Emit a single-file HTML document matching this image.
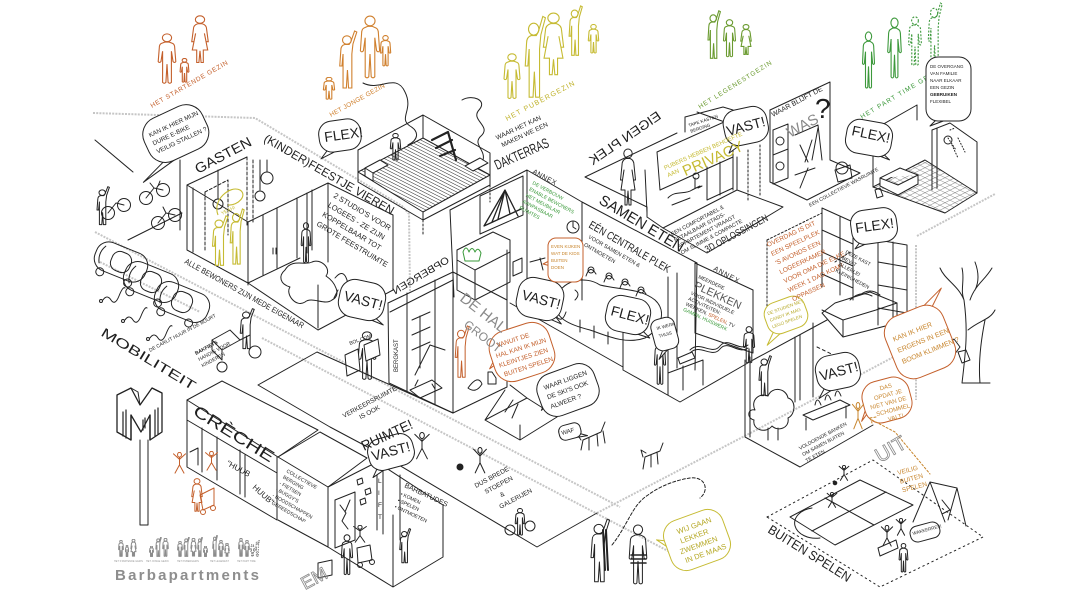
<!DOCTYPE html>
<html><head><meta charset="utf-8">
<style>
html,body{margin:0;padding:0;background:#fff}
body{width:1088px;height:593px;overflow:hidden}
svg{display:block}
text{font-family:"Liberation Sans",sans-serif}
</style></head><body>
<svg width="1088" height="593" viewBox="0 0 1088 593" xmlns="http://www.w3.org/2000/svg" xmlns:xlink="http://www.w3.org/1999/xlink">
<defs>
<symbol id="pm" viewBox="0 0 20 60" preserveAspectRatio="none">
 <ellipse cx="10" cy="5.5" rx="4.2" ry="4.5" vector-effect="non-scaling-stroke"/>
 <path vector-effect="non-scaling-stroke" d="M8,10.5 L5,12 Q3,13 3,17 L2,33 Q3,35 4.5,33 L6,21 L6,57 Q7.5,59 9,57 L10,36 L11,57 Q12.5,59 14,57 L14,21 L15.5,33 Q17,35 18,33 L17,17 Q17,13 15,12 L12,10.5 Z"/>
</symbol>
<symbol id="pw" viewBox="0 0 20 60" preserveAspectRatio="none">
 <ellipse cx="10" cy="5.5" rx="4.2" ry="4.5" vector-effect="non-scaling-stroke"/>
 <path vector-effect="non-scaling-stroke" d="M8,10.5 Q4,12 4,17 L2.5,32 L4.5,32 L6,22 L3,42 L7,42 L7,57 L9,57 L10,43 L11,57 L13,57 L13,42 L17,42 L14,22 L15.5,32 L17.5,32 L16,17 Q16,12 12,10.5 Z"/>
</symbol>
<symbol id="pr" viewBox="0 0 20 60" preserveAspectRatio="none">
 <ellipse cx="9" cy="10" rx="4" ry="4.2" vector-effect="non-scaling-stroke"/>
 <path vector-effect="non-scaling-stroke" d="M7,14.5 Q3.5,15.5 3.5,20 L2.5,36 L4.5,36 L5.5,24 L5.5,58 L8.5,58 L9.5,40 L10.5,58 L13.5,58 L13.5,24 L14.5,14 L18,2 L16,1 L12.5,12 L11,14.5 Z"/>
</symbol>
<symbol id="ps" viewBox="0 0 20 24" preserveAspectRatio="none">
 <circle cx="10" cy="3" r="2.6" vector-effect="non-scaling-stroke"/>
 <path vector-effect="non-scaling-stroke" d="M10,6 L10,14 M2,2 L10,8 L18,2 M10,14 L4,23 M10,14 L16,23"/>
</symbol>
<pattern id="hatch" patternUnits="userSpaceOnUse" width="3" height="3" patternTransform="rotate(-63)"><line x1="0" y1="0" x2="0" y2="3" stroke="#222" stroke-width="1"/></pattern>
<pattern id="grid" patternUnits="userSpaceOnUse" width="5" height="5" patternTransform="matrix(1,0.5,-1,0.5,0,0)"><path d="M0,0 L5,0 M0,0 L0,5" stroke="#333" stroke-width="0.7" fill="none"/></pattern>
</defs>

<rect width="1088" height="593" fill="#fff"/>

<!-- gray text bands -->
<g fill="none" stroke="#c6c6c6" stroke-width="2" stroke-dasharray="2 1.2">
<path d="M93,113 L255,118 L402,206 L409,214 L410,292"/>
<path d="M95,232 L620,507"/>
<path d="M262,338 L668,551"/>
<path d="M597,513 L760,428 L916,345"/>
<path d="M916,245 L916,400"/>
<path d="M917,236 L995,194"/>
<path d="M100,262 L200,312"/>
</g>

<!-- top family figures -->
<g fill="none" stroke-width="1.1">
 <g stroke="#c4602c">
  <use href="#pm" x="156" y="33" width="22" height="52"/>
  <use href="#pm" x="179" y="58" width="11" height="25"/>
  <use href="#pw" x="189" y="15" width="22" height="50"/>
 </g>
 <g stroke="#d0802e">
  <use href="#pm" x="322" y="77" width="14" height="23"/>
  <use href="#pr" x="337" y="30" width="22" height="60"/>
  <use href="#pm" x="358" y="15" width="24" height="65"/>
  <use href="#pm" x="379" y="35" width="13" height="32"/>
 </g>
 <g stroke="#c6bb33">
  <use href="#pm" x="502" y="53" width="20" height="47"/>
  <use href="#pr" x="522" y="15" width="26" height="85"/>
  <use href="#pw" x="540" y="12" width="27" height="66"/>
  <use href="#pr" x="567" y="5" width="17" height="52"/>
  <use href="#pm" x="587" y="24" width="13" height="30"/>
 </g>
 <g stroke="#6b9b30">
  <use href="#pr" x="706" y="10" width="16" height="50"/>
  <use href="#pm" x="722" y="19" width="15" height="39"/>
  <use href="#pw" x="739" y="24" width="14" height="32"/>
 </g>
 <g stroke="#3d993c">
  <use href="#pm" x="861" y="31" width="15" height="59"/>
  <use href="#pm" x="886" y="17" width="17" height="63"/>
  <use href="#pm" x="907" y="16" width="16" height="51" stroke-dasharray="2 1.5"/>
  <use href="#pr" x="926" y="2" width="18" height="65" stroke-dasharray="2 1.5"/>
 </g>
</g>
<g font-size="6.5">
 <text transform="translate(152,108) rotate(-30)" fill="#c4602c" textLength="88" lengthAdjust="spacing">HET STARTENDE GEZIN</text>
 <text transform="translate(331,117) rotate(-29)" fill="#d0802e" textLength="62" lengthAdjust="spacing">HET JONGE GEZIN</text>
 <text transform="translate(507,121) rotate(-28)" fill="#bfb22a" font-size="7" textLength="77" lengthAdjust="spacing">HET PUBERGEZIN</text>
 <text transform="translate(700,109) rotate(-32)" fill="#6b9b30" textLength="85" lengthAdjust="spacing">HET LEGENESTGEZIN</text>
 <text transform="translate(862,119) rotate(-31)" fill="#3d993c" textLength="92" lengthAdjust="spacing">HET PART TIME GEZIN</text>
</g>

<!-- main ink drawing -->
<g fill="none" stroke="#222" stroke-width="1" stroke-linecap="round" stroke-linejoin="round">

<!-- bike shelter -->
<path d="M95,140 L133,172 M180,160 L180,230 M128,240 L182,213"/>
<circle cx="146" cy="198" r="6.5"/><circle cx="163" cy="190" r="6.5"/>
<path d="M146,198 L154,188 L163,190 M154,188 L150,183 M158,186 L160,181"/>
<circle cx="158" cy="223" r="6.5"/><circle cx="175" cy="215" r="6.5"/>
<path d="M158,223 L166,213 L175,215 M166,213 L163,207"/>
<circle cx="108" cy="213" r="6.5"/><circle cx="124" cy="205" r="6.5"/>
<path d="M108,213 L116,203 L124,205"/>
<use href="#pr" x="95" y="186" width="16" height="40"/>

<!-- cars -->
<g transform="translate(121,262) rotate(22)"><rect x="-27" y="-15" width="54" height="30" rx="13"/><rect x="-10" y="-10" width="20" height="20" rx="8"/><path d="M-20,-9 Q-25,0 -20,9"/><circle cx="-16" cy="17" r="4"/><circle cx="14" cy="17" r="4"/></g>
<g transform="translate(151,282) rotate(22)"><rect x="-28" y="-15" width="56" height="30" rx="13"/><rect x="-10" y="-10" width="20" height="20" rx="8"/><path d="M-20,-9 Q-25,0 -20,9"/><circle cx="-16" cy="17" r="4"/><circle cx="14" cy="17" r="4"/></g>
<g transform="translate(182,302) rotate(22)"><rect x="-28" y="-15" width="56" height="30" rx="13"/><rect x="-10" y="-10" width="20" height="20" rx="8"/><path d="M-20,-9 Q-25,0 -20,9"/><circle cx="-16" cy="17" r="4"/><circle cx="14" cy="17" r="4"/></g>
<path d="M103,300 q4,-6 8,0 t8,-4 t6,-8 M125,320 q4,-6 8,0 t8,-4 t6,-8 M150,338 q4,-6 8,0 t8,-4 t6,-8"/>
<circle cx="101" cy="301" r="1.5"/><circle cx="123" cy="321" r="1.5"/><circle cx="148" cy="339" r="1.5"/>

<!-- GASTEN / feestje -->
<path d="M187,185 L247,157 M187,185 L248,222 L328,183 L393,215 M187,185 L187,250 L248,283 M193,188 L193,252 M248,222 L248,285 M328,183 L328,262 M393,215 L393,290"/>
<path stroke-dasharray="3 2" d="M247,157 L247,225 M253,160 L253,222 M205,192 L228,180 L228,235 M205,192 L205,250"/>
<path d="M218,170 L218,199 M267,160 L267,172 M260,160 L260,190"/>
<circle cx="218" cy="204" r="5"/><circle cx="267" cy="178" r="6"/><circle cx="260" cy="196" r="5"/>
<path d="M263,215 L263,275 M277,208 L277,268 M297,198 L297,258 M307,193 L307,253 M312,190 L312,250"/>
<path d="M248,283 L300,258 M318,330 L393,290 M248,283 L318,330 M318,285 L318,328"/>
<path d="M285,270 C292,258 305,266 312,262 C320,258 332,268 326,276 C335,282 342,295 332,300 C325,306 312,296 305,302 C296,308 285,294 290,287 C280,284 278,276 285,270 Z"/>
<use href="#pm" x="300" y="222" width="12" height="42"/>
<path d="M335,278 q8,-10 12,2 q2,8 -6,10 M338,290 l-4,8 M345,290 l3,8"/>
<path d="M273,248 L273,254 M276,248 L276,254"/>

<!-- dakterras -->
<polygon points="358,172 423,138 490,175 423,212" fill="url(#hatch)"/>
<path d="M358,172 L358,150 L423,115 L490,153 L490,175 M423,115 L423,138"/>
<path d="M358,172 L358,182 L423,220 L490,185 L490,175 M423,212 L423,220"/>
<path stroke-dasharray="2 2" d="M423,220 L423,234 M490,185 L490,202"/>
<use href="#pm" x="389" y="133" width="13" height="28"/>
<path d="M365,168 L380,160 L388,165 L373,173 Z M365,168 L365,176 L373,181 L373,173 M465,166 L480,158 L488,163 L473,171 Z" fill="#fff"/>
<path stroke-width="2.2" d="M432,140 L448,132 L456,160 M436,148 L452,140 M440,156 L455,150"/>
<path d="M363,83 C380,92 396,72 405,92 C414,110 398,118 410,126 C420,132 418,140 408,145"/>
<path d="M462,100 C472,94 488,100 479,110 C470,120 492,126 481,136 C472,144 486,150 483,160"/>

<!-- annex centre -->
<path d="M450,210 L527,170 L582,202 M450,210 L454,297 M527,170 L527,303 M582,202 L582,300 M507,250 L507,307"/>
<polygon points="480,196 523,176 523,215 480,234"/>
<path d="M484,226 L505,190 L518,216 M492,222 L505,190 M498,219 L505,190 M510,214 L505,190 M484,226 L521,209" stroke-width="1.3"/>
<path d="M457,250 L493,232 L510,240 L510,282 L475,300 L457,290 Z M457,260 L475,270 L510,252 M475,270 L475,300"/>
<path stroke="#3a9a3a" d="M463,252 q3,-8 6,0 q3,-7 6,0 q3,-6 6,1 l-2,8 l-14,0 z"/>
<circle cx="573" cy="227" r="6"/><path d="M573,222 L573,227 L576,229"/>
<path d="M513,262 L522,258 L522,272 L513,276 Z"/>
<path d="M530,262 L545,258 M540,258 L543,270"/>

<!-- de hal / opbergen -->
<path d="M388,303 L453,272 L507,300 M388,303 L389,383 L453,413 L507,387 L507,300 M453,272 L453,413"/>
<path d="M407,293 L407,392 M435,280 L435,404 M390,312 L453,280"/>
<path d="M412,320 L430,312 M412,335 L430,327 M412,350 L430,342 M420,316 L420,368"/>
<path d="M415,375 L430,345 L445,350 M418,380 l-3,6 M432,384 l3,5"/>
<path d="M410,390 L432,380 L442,388 L420,398 Z"/>
<path d="M468,388 q10,-14 14,-4 q-6,10 -14,4 z M488,372 l0,12 l8,0 l0,-6 l-4,-6 z"/>
<use href="#pm" x="356" y="331" width="22" height="50"/>
<path d="M345,355 L358,349 L360,370 L347,376 Z M364,345 L378,339 L380,355 L366,361 Z" fill="#fff"/>

<!-- samen eten -->
<path d="M582,202 L697,263 M697,263 L695,370 M668,277 L668,373 M677,273 L677,368 M510,303 L623,367 M623,327 L623,370 M623,370 L680,402 L753,360"/>
<path d="M556,300 C560,280 585,275 600,285 C620,290 640,288 655,300 C668,312 660,330 645,338 C625,345 605,335 590,330 C570,325 552,318 556,300 Z"/>
<path d="M570,282 q4,-12 10,-2 M586,276 q4,-12 10,-2 M604,282 q4,-12 10,-2 M620,288 q4,-12 10,-2 M636,296 q4,-12 10,-2 M566,312 q-4,12 -10,4 M580,320 l0,12 M594,326 l0,12 M608,332 l0,12"/>
<circle cx="575" cy="276" r="3"/><circle cx="591" cy="270" r="3"/><circle cx="609" cy="276" r="3"/><circle cx="625" cy="282" r="3"/><circle cx="641" cy="290" r="3"/>
<path d="M560,265 q6,-6 10,2 M575,290 q6,4 0,10"/>

<!-- annex right (plekken) -->
<polygon points="695,263 753,290 753,353 695,333"/>
<path d="M668,373 L703,360 L703,385 M668,373 L668,395 M683,366 L683,390 M680,364 L695,358 L692,352 L678,358 Z"/>
<use href="#pm" x="653" y="338" width="14" height="48"/>
<path d="M690,350 C700,340 712,356 720,346 C728,336 738,352 748,345"/>
<path d="M690,353 C700,343 712,359 720,349 C728,339 738,355 748,348"/>

<!-- eigen plek -->
<path d="M585,177 L677,133 M585,177 L647,207 L647,217 M645,170 L647,213"/>
<polygon points="657,152 733,118 733,157 660,190" fill="#fff"/>
<path d="M685,117 L685,132 M685,117 L723,107 L733,110 L733,118 M697,112 L733,125"/>
<path d="M707,167 L707,200 M733,157 L733,190 M720,162 L720,195 M707,200 L733,188"/>
<polygon points="663,228 737,190 783,207 707,253"/>
<path d="M647,217 L663,228 M737,190 L737,157"/>
<use href="#pw" x="618" y="148" width="20" height="60"/>
<path d="M668,198 C675,190 685,195 692,190 L700,186 M672,205 L690,198 M695,178 l0,10 M698,188 l4,-2"/>
<circle cx="696" cy="176" r="3"/>
<path stroke-dasharray="2 2" d="M748,150 L748,200 M760,145 L760,195"/>

<!-- was -->
<path d="M770,110 L830,82 L830,160 M770,110 L770,182 L807,200 L860,173 L830,160"/>
<path d="M773,130 L788,124 L788,178 L773,184 Z M773,155 L788,149"/>
<circle cx="780" cy="166" r="4"/><circle cx="780" cy="141" r="4"/>
<path d="M795,135 L818,125 L822,160 M800,145 L808,162 M812,140 L805,162 M818,128 L812,160"/>
<path d="M795,175 L815,168 M808,168 L800,188 M835,170 L850,165 L852,178 L838,182 Z"/>
<circle cx="842" cy="168" r="6"/>

<!-- bathroom -->
<polygon points="873,187 925,160 977,193 945,213" fill="url(#grid)"/>
<path d="M873,130 L873,187 M873,130 L917,105 M917,105 L917,120 M950,123 L977,142 L977,193 M932,130 L932,190 M937,128 L937,188 M932,130 L950,123"/>
<path d="M880,178 L900,168 L918,175 L898,185 Z M880,178 L880,186 L898,195 L918,184 L918,175" fill="#fff"/>
<path d="M950,130 L955,128 M948,138 L956,150 M958,138 L965,152 M952,145 L958,158" stroke-dasharray="1 2"/>
<circle cx="948" cy="140" r="4"/>
<path d="M875,190 L880,188 L883,196 L877,198 Z"/>

<!-- bed / closets right -->
<path d="M822,208 L822,287 M822,208 L853,222 L853,300 M840,217 L840,295 M822,230 L853,244 M822,252 L853,266 M822,274 L853,288"/>
<path d="M878,240 L907,245 L907,323 M878,240 L878,325 M878,262 L907,267 M878,285 L907,290 M878,308 L907,313 M893,242 L893,320"/>
<path d="M822,313 L843,337 L897,323 L897,303 L870,292 L835,303 L822,313 M843,337 L843,320 L822,310 M843,320 L876,310 L897,303"/>
<path d="M850,300 q10,-10 22,-4 M860,295 q10,-8 20,0"/>
<path stroke-dasharray="2 2" d="M767,240 L767,312 M767,240 L822,213"/>
<path stroke-dasharray="2 2" d="M835,262 L850,252"/>

<!-- lower room with tree -->
<path d="M745,360 L745,437 M750,357 L750,437 M795,337 L795,402 M800,335 L800,400 M813,323 L813,397 M753,360 L827,320 M745,437 L800,467 L873,425"/>
<path stroke-dasharray="3 3" d="M817,347 L850,363"/>
<path d="M755,410 C750,400 760,392 768,396 C772,386 786,388 788,398 C796,400 796,414 788,418 C790,428 778,432 772,426 C766,434 752,430 754,420 C746,418 748,408 755,410 Z M768,428 L768,440 M778,428 L778,440"/>
<path d="M803,415 L840,400 L850,405 L813,420 Z M806,418 L806,430 M846,406 L846,418"/>
<path d="M815,405 q2,-10 6,0 M825,400 q2,-10 6,0 M835,396 q2,-10 6,0"/>
<use href="#pm" x="742" y="326" width="14" height="38"/>
<use href="#pr" x="757" y="355" width="16" height="42"/>

<!-- tree right -->
<path d="M962,383 C966,350 968,330 964,300 C958,285 945,280 940,268 M970,300 C975,285 985,280 992,268 M968,330 C980,320 990,320 995,310 M964,300 C960,290 965,280 962,268 M980,383 C978,360 982,335 985,320 M962,383 L990,383 M975,290 C980,280 978,270 975,262"/>
<path d="M946,345 l8,-6 l6,8 l-6,8 z M958,352 l8,-2 l4,10 l-8,3 z"/>

<!-- plaza / ground -->
<path d="M258,385 L317,352 L453,413 M258,385 L330,427 L377,452 L537,547 L597,513"/>

<!-- MOBILITEIT sign -->
<path d="M117,395 L131,388 L140,405 L152,388 L162,393 L162,432 L150,440 L150,415 L141,432 L131,415 L131,440 L117,432 Z" fill="#fff" stroke-width="1.3"/>
<path d="M131,415 L131,440 M150,415 L150,440" stroke-width="1.3"/>
<path d="M131,388 L138,392 L140,405 M152,388 L160,392" />
<path d="M123,412 L123,436 M126,410 L126,438 M155,410 L155,436 M158,408 L158,434 M143,420 L143,430 M145,418 L145,428" stroke-width="1.2"/>
<path d="M140,440 L140,525 L148,525 L148,440"/>

<!-- creche -->
<path d="M187,400 L222,381 L318,430 L278,457 Z"/>
<path d="M187,400 L187,467 L277,520 L277,457 M187,420 L277,473 M202,428 L202,472 M217,437 L217,480 M240,450 L240,494 M245,455 L245,497"/>
<path d="M190,452 L198,448 L198,465"/>
<use href="#ps" x="172" y="452" width="15" height="22" stroke="#c4602c"/>
<use href="#ps" x="204" y="451" width="15" height="20" stroke="#c4602c"/>
<g stroke="#c4602c"><use href="#pw" x="190" y="478" width="14" height="35"/><path d="M200,495 L214,488 L214,505 L203,510 Z"/><circle cx="203" cy="512" r="2.5"/><circle cx="213" cy="508" r="2.5"/></g>

<!-- berging / lift -->
<path d="M278,457 L328,487 L328,547 L278,520 M278,457 L320,432 L367,458 L328,487"/>
<path d="M328,487 L377,462 L443,505 L443,557 M377,462 L377,530 M383,465 L383,534 M400,475 L400,540 M328,547 L393,587 L443,557 M393,515 L393,587"/>
<path d="M335,500 L355,492 L355,540 L335,548 Z"/>
<path d="M340,505 l6,8 l-4,8 l6,8 M350,500 l-5,12"/>
<path d="M357,480 l5,-2 l1,5 l-5,2 z M365,490 l5,-2 l1,5 l-5,2 z M360,500 l5,-2 l1,5 l-5,2 z"/>
<use href="#pm" x="340" y="534" width="14" height="42"/>
<use href="#ps" x="352" y="525" width="16" height="18"/>
<use href="#pr" x="398" y="528" width="14" height="36"/>
<path d="M318,563 L332,560 L332,575 L318,578 Z M357,548 L370,545 L372,560 L358,563 Z"/>
<circle cx="360" cy="565" r="2.5"/><circle cx="372" cy="562" r="2.5"/>

<!-- cargo bike -->
<path d="M212,340 L230,330 L240,340 L222,350 Z M212,340 L212,350 L222,360 L222,350 M240,340 L250,335"/>
<circle cx="222" cy="367" r="5"/><circle cx="255" cy="352" r="6"/>
<use href="#pr" x="238" y="308" width="18" height="42"/>

<!-- ski box, dog, cat -->
<path d="M485,420 L527,398 L557,417 L520,440 Z M485,420 L505,390 M527,398 L510,385 M520,440 L520,425"/>
<path d="M505,412 l8,-12 M512,418 l6,-14"/>
<path d="M583,440 l18,-8 l4,-10 M583,440 l-2,10 M589,438 l0,12 M597,434 l1,12 M603,431 l2,12 M581,440 l-4,-6 l6,2"/>
<path d="M645,457 l15,-6 l3,-8 M645,457 l-2,12 M651,455 l0,12 M657,452 l1,12 M643,457 l-2,-7 l5,3"/>
<circle cx="460" cy="467" r="3" fill="#222"/>
<use href="#ps" x="472" y="447" width="16" height="27"/>
<use href="#ps" x="413" y="432" width="18" height="28"/>
<circle cx="510" cy="530" r="5"/><circle cx="530" cy="526" r="5"/><use href="#pm" x="514" y="508" width="12" height="28"/>

<!-- field -->
<polygon points="767,517 873,460 983,537 880,587" stroke-dasharray="1.5 3.5"/>
<polygon points="790,517 860,480 913,505 835,545"/>
<path d="M825,498 L874,525 M812,531 L886,492 M812,508 A14,10 0 0 0 820,538"/>
<circle cx="835" cy="483" r="1.8" fill="#222"/>
<use href="#ps" x="826" y="492" width="12" height="16"/>
<use href="#ps" x="838" y="465" width="12" height="16"/>
<path d="M913,522 L930,482 L945,522 M930,482 L957,488 L966,526 M957,488 L948,520 M942,500 l8,10 l-8,4"/>
<use href="#ps" x="880" y="525" width="14" height="22"/>
<use href="#pm" x="898" y="543" width="11" height="30"/>
<use href="#ps" x="895" y="518" width="12" height="18"/>
<path d="M878,548 L896,540 L898,548 L880,556 Z"/>

<!-- swimmers -->
<use href="#pr" x="588" y="518" width="24" height="66"/>
<use href="#pm" x="627" y="524" width="22" height="62"/>
<path d="M603,530 L605,570 M606,530 L608,570" stroke-width="2"/>
<path d="M631,555 L646,555 M631,559 L646,559 M631,563 L646,563" stroke-width="1.6"/>
<path stroke-dasharray="3 2" d="M612,545 C628,525 632,505 648,495 C660,486 676,480 690,478 C705,476 710,490 700,498"/>

<!-- bubbles -->
<g fill="#fff">
 <g transform="translate(176,134) rotate(-25)"><path d="M-18,18 L-50,30 L-8,22"/><rect x="-32" y="-24" width="64" height="47" rx="18"/></g>
 <g transform="translate(340,136) rotate(-8)"><path d="M-12,10 L-22,20 L-2,13"/><rect x="-21" y="-16" width="42" height="31" rx="13"/></g>
 <g transform="translate(746,127) rotate(-12)"><path d="M-14,10 L-22,22 L-4,14"/><rect x="-22" y="-19" width="44" height="36" rx="14"/></g>
 <g transform="translate(869,138) rotate(10)"><path d="M12,10 L24,18 L4,14"/><rect x="-23" y="-17" width="46" height="34" rx="13"/></g>
 <g transform="translate(948,90)"><path d="M-10,28 L-18,36 L-2,30"/><rect x="-22" y="-33" width="45" height="64" rx="12"/></g>
 <g transform="translate(874,226) rotate(-8)"><path d="M-12,10 L-22,20 L-2,14"/><rect x="-23" y="-17" width="46" height="34" rx="13"/></g>
 <g transform="translate(362,300) rotate(12)"><path d="M12,12 L26,20 L4,16"/><rect x="-23" y="-19" width="46" height="38" rx="15"/></g>
 <g transform="translate(540,299) rotate(12)"><path d="M14,10 L26,20 L6,16"/><rect x="-23" y="-20" width="46" height="40" rx="15"/></g>
 <g transform="translate(628,315) rotate(12)"><path d="M14,10 L26,18 L6,16"/><rect x="-22" y="-18" width="44" height="36" rx="14"/></g>
 <g transform="translate(838,372) rotate(-12)"><path d="M-14,10 L-24,22 L-4,14"/><rect x="-22" y="-18" width="44" height="35" rx="14"/></g>
 <g transform="translate(391,452) rotate(-15)"><path d="M-14,8 L-24,20 L-4,13"/><rect x="-23" y="-16" width="46" height="32" rx="13"/></g>
 <g transform="translate(568,390) rotate(-20)"><path d="M-22,6 L-32,10 L-20,-2"/><rect x="-30" y="-22" width="60" height="44" rx="16"/></g>
 <g transform="translate(570,432) rotate(-15)"><path d="M9,4 L16,8 L6,7"/><rect x="-11" y="-8" width="22" height="15" rx="6"/></g>
 <g transform="translate(665,335) rotate(-15)"><path d="M-6,14 L-12,22 L0,14"/><rect x="-12" y="-17" width="24" height="32" rx="8"/></g>
 <g transform="translate(925,532) rotate(-15)"><rect x="-15" y="-8" width="30" height="16" rx="7"/></g>
 <g stroke="#c4602c"><g transform="translate(522,352) rotate(-18)"><path d="M-24,2 L-36,6 L-24,-6"/><rect x="-31" y="-26" width="62" height="52" rx="18"/></g>
 <g transform="translate(920,342) rotate(-22)"><path d="M22,-26 L40,-42 L12,-30"/><rect x="-31" y="-33" width="62" height="66" rx="18"/></g>
 <g transform="translate(887,400) rotate(-15)"><path d="M-20,6 L-30,14 L-18,-4"/><rect x="-24" y="-21" width="48" height="42" rx="16"/></g>
 <g transform="translate(565,260)"><path d="M-14,0 L-22,4 L-14,6"/><rect x="-17" y="-22" width="35" height="44" rx="8"/></g></g>
 <g stroke="#c6bb33"><g transform="translate(697,540) rotate(-20)"><path d="M-26,-8 L-38,-14 L-26,2"/><rect x="-31" y="-26" width="62" height="52" rx="16"/></g>
 <g transform="translate(786,315) rotate(-20)"><path d="M-16,10 L-28,22 L-8,14"/><rect x="-21" y="-16" width="42" height="32" rx="12"/></g></g>
</g>

<!-- orange woman + dotted arrow -->
<use href="#pr" x="453" y="325" width="18" height="54" stroke="#c4602c"/>
<use href="#ps" x="851" y="402" width="14" height="28" stroke="#c8862e"/>
<path stroke="#c8862e" stroke-dasharray="2 2" d="M872,420 L895,432 L930,474 M870,418 l6,-1 M870,418 l2,5"/>
</g>

<!-- yellow dancers -->
<g fill="none" stroke="#c6bb33" stroke-width="1.1">
 <use href="#pr" x="210" y="215" width="20" height="52"/>
 <use href="#pr" x="228" y="208" width="18" height="58"/>
 <path d="M218,215 C212,200 230,185 240,190 C248,195 238,206 228,205"/>
</g>

<!-- texts -->
<g fill="#1e1e1e">
 <text transform="translate(198,174) rotate(-28)" font-size="14" textLength="62" lengthAdjust="spacingAndGlyphs">GASTEN</text>
 <text transform="translate(263,141) rotate(30)" font-size="12" textLength="148" lengthAdjust="spacingAndGlyphs">(KINDER)FEESTJE VIEREN</text>
 <g transform="translate(333,197) rotate(31)" font-size="7.5"><text x="0" y="0">2 STUDIO'S VOOR</text><text x="0" y="11">LOGEES - ZE ZIJN</text><text x="0" y="22">KOPPELBAAR TOT</text><text x="0" y="33">GROTE FEESTRUIMTE</text></g>
 <text transform="translate(184,263) rotate(29)" font-size="8" textLength="135" lengthAdjust="spacingAndGlyphs">ALLE BEWONERS ZIJN MEDE EIGENAAR</text>
 <g transform="translate(497,140) rotate(-25)" font-size="6.5"><text x="0" y="0">WAAR HET KAN</text><text x="2" y="9">MAKEN WE EEN</text></g>
 <text transform="translate(497,170) rotate(-24)" font-size="14" textLength="58" lengthAdjust="spacingAndGlyphs">DAKTERRAS</text>
 <text transform="translate(532,173) rotate(28)" font-size="7" textLength="26" lengthAdjust="spacing">ANNEX</text>
 <g transform="translate(532,184) rotate(28)" font-size="5" fill="#3a9a3a"><text y="0">DE VERBOUW</text><text y="7">ENABLE BEWONERS</text><text y="14">HET MEUBILAIR</text><text y="21">AANPASBAAR</text><text y="28">RUIMTES</text></g>
 <text transform="matrix(-0.825,0.565,0.565,0.825,662,118)" font-size="13" textLength="84" lengthAdjust="spacingAndGlyphs">EIGEN PLEK</text>
 <text transform="translate(598,203) rotate(31)" font-size="15" textLength="96" lengthAdjust="spacingAndGlyphs">SAMEN ETEN</text>
 <text transform="translate(588,227) rotate(30)" font-size="11" textLength="92" lengthAdjust="spacingAndGlyphs">EÉN CENTRALE PLEK</text>
 <g transform="translate(588,238) rotate(30)" font-size="5.5"><text y="0">VOOR SAMEN ETEN &amp;</text><text y="9">ONTMOETEN</text></g>
 <g transform="translate(672,236) rotate(-28)" font-size="5.5"><text y="0">EEN COMFORTABEL &amp;</text><text y="7">BETAALBAAR STADS-</text><text y="14">APPARTEMENT VRAAGT</text><text y="21">OM SLIMME &amp; COMPACTE</text></g>
 <text transform="translate(707,253) rotate(-28)" font-size="10" textLength="70" lengthAdjust="spacingAndGlyphs">3D OPLOSSINGEN</text>
 <g transform="translate(665,170) rotate(-24)" fill="#c6bb33"><text font-size="6" y="0">PUBERS HEBBEN BEHOEFTE</text><text font-size="6" y="8">AAN</text><text x="16" y="14" font-size="15">PRIVACY</text></g>
 <g transform="translate(689,127) rotate(-18)" font-size="4.5"><text>TAPE KASTEN</text><text y="6">BERGING</text></g>
 <text transform="translate(773,117) rotate(-28)" font-size="7">WAAR BLIJFT DE</text>
 <text transform="translate(790,138) rotate(-28)" font-size="15" fill="#8a8a8a">WAS</text>
 <text x="815" y="118" font-size="28">?</text>
 <text transform="translate(810,207) rotate(-28)" font-size="5">EEN COLLECTIEVE WASRUIMTE</text>
 <text transform="translate(713,270) rotate(28)" font-size="7" textLength="28" lengthAdjust="spacing">ANNEX</text>
 <g transform="translate(698,278) rotate(25)"><text font-size="5">MEERDERE</text><text y="11" font-size="11" fill="#555">PLEKKEN</text><text y="18" font-size="5">VOOR INDIVIDUELE</text><text y="24" font-size="5">ACTIVITEITEN:</text><text y="30" font-size="5">WERKEN, <tspan fill="#c4602c">SPELEN</tspan>, TV</text><text y="36" font-size="5" fill="#3a9a3a">GAMEN, HUISWERK</text></g>
 <g transform="translate(768,247) rotate(-25)" font-size="6.5" fill="#c4602c"><text y="0">OVERDAG IS DIT</text><text y="10">EEN SPEELPLEK</text><text y="20">'S AVONDS EEN</text><text y="30">LOGEERKAMER</text><text y="40">VOOR OMA DIE ELKE</text><text y="50">WEEK 1 DAG KOMT</text><text y="60">OPPASSEN</text></g>
 <g transform="translate(845,253) rotate(28)" font-size="5"><text>DEZE KAST</text><text y="7">BEVAT</text><text y="14">ALLERLEI</text><text y="21">KLEINIGHEDEN</text></g>
 <text transform="matrix(-0.86,0.51,0.51,0.86,450,262)" font-size="10" textLength="64" lengthAdjust="spacingAndGlyphs">OPBERGEN</text>
 <text transform="translate(398,372) rotate(-90)" font-size="6">BERGKAST</text>
 <text transform="translate(459,300) rotate(38)" font-size="15" fill="#8a8a8a">DE HAL</text>
 <text transform="translate(463,326) rotate(38)" font-size="12" fill="#8a8a8a">GROOT</text>
 <text transform="translate(100,335) rotate(31)" font-size="13" textLength="108" lengthAdjust="spacingAndGlyphs">MOBILITEIT</text>
 <text transform="translate(192,414) rotate(32)" font-size="16" textLength="92" lengthAdjust="spacingAndGlyphs">CRÈCHE</text>
 <text transform="translate(226,465) rotate(28)" font-size="8">"HUUB</text>
 <text transform="translate(252,488) rotate(42)" font-size="8">HUUB"</text>
 <g transform="translate(286,472) rotate(30)" font-size="5"><text>COLLECTIEVE</text><text y="7">BERGING</text><text y="14">- FIETSEN</text><text y="21">- BUGGY'S</text><text y="28">- BOODSCHAPPEN</text><text y="35">- GEREEDSCHAP</text></g>
 <g font-size="6.5"><text x="378" y="483">L</text><text x="378" y="495">I</text><text x="378" y="507">F</text><text x="378" y="519">T</text></g>
 <g transform="translate(404,487) rotate(25)" font-size="5"><text font-size="7">BARBATUDES</text><text y="9">• KOMEN</text><text y="16">• SPELEN</text><text y="23">• ONTMOETEN</text></g>
 <g transform="translate(344,418) rotate(-28)" font-size="6.5"><text>VERKEERSRUIMTE</text><text x="14" y="9">IS OOK</text></g>
 <text transform="translate(364,451) rotate(-25)" font-size="14" textLength="55" lengthAdjust="spacingAndGlyphs">RUIMTE!</text>
 <g transform="translate(476,488) rotate(-28)" font-size="6.5"><text>DUS BREDE</text><text x="6" y="10">STOEPEN</text><text x="18" y="20">&amp;</text><text x="12" y="30">GALERIJEN</text></g>
 <text transform="translate(767,532) rotate(32)" font-size="13" textLength="95" lengthAdjust="spacingAndGlyphs">BUITEN SPELEN</text>
 <g transform="translate(898,475) rotate(-15)" font-size="6.5" fill="#c8862e"><text>VEILIG</text><text y="9">BUITEN</text><text y="18">SPELEN</text></g>
 <text transform="translate(880,463) rotate(-30)" font-size="20" fill="none" stroke="#888" stroke-width="0.8">UIT</text>
 <g transform="translate(196,355) rotate(-28)" font-size="5"><text font-weight="bold">BAKFIETS</text><text y="7">HANDIG VOOR</text><text y="14">KINDEREN</text></g>
 <text transform="translate(150,352) rotate(-28)" font-size="5">DE CARLIT HUUR IN DE BUURT</text>
 <text transform="translate(350,345) rotate(-20)" font-size="5">BOL.COM</text>

 <!-- bubble texts -->
 <g transform="translate(176,134) rotate(-25)" font-size="6.3"><text x="-25" y="-8">KAN IK HIER MIJN</text><text x="-25" y="1">DURE E-BIKE</text><text x="-25" y="10">VEILIG STALLEN ?</text></g>
 <text transform="translate(325,142) rotate(-8)" font-size="14">FLEX!</text>
 <text transform="translate(728,136) rotate(-15)" font-size="14">VAST!</text>
 <text transform="translate(851,135) rotate(12)" font-size="14">FLEX!</text>
 <g transform="translate(930,68)" font-size="4.5"><text y="0">DE OVERGANG</text><text y="7">VAN FAMILIE</text><text y="14">NAAR ELKAAR</text><text y="21">EEN GEZIN</text><text y="28" font-weight="bold">GEBRUIKEN</text><text y="35">FLEXIBEL</text></g>
 <text transform="translate(856,233) rotate(-8)" font-size="14">FLEX!</text>
 <text transform="translate(343,300) rotate(15)" font-size="14">VAST!</text>
 <text transform="translate(521,299) rotate(15)" font-size="14">VAST!</text>
 <text transform="translate(610,315) rotate(15)" font-size="14">FLEX!</text>
 <text transform="translate(821,381) rotate(-15)" font-size="14">VAST!</text>
 <text transform="translate(373,461) rotate(-15)" font-size="14">VAST!</text>
 <g transform="translate(568,390) rotate(-20)" font-size="6.5"><text x="-22" y="-8">WAAR LIGGEN</text><text x="-22" y="2">DE SKI'S OOK</text><text x="-22" y="12">ALWEER ?</text></g>
 <text transform="translate(562,435) rotate(-15)" font-size="6">WAF</text>
 <g transform="translate(657,330) rotate(-15)" font-size="4.5"><text>IK WERK</text><text y="8">THUIS</text></g>
 <text transform="translate(913,535) rotate(-15)" font-size="4.5">WAKKERRES!</text>
 <g transform="translate(522,352) rotate(-18)" font-size="6.5" fill="#c4602c"><text x="-22" y="-12">VANUIT DE</text><text x="-26" y="-2">HAL KAN IK MIJN</text><text x="-26" y="8">KLEINTJES ZIEN</text><text x="-24" y="18">BUITEN SPELEN</text></g>
 <g transform="translate(920,342) rotate(-22)" font-size="7" fill="#c8862e"><text x="-24" y="-10">KAN IK HIER</text><text x="-24" y="2">ERGENS IN EEN</text><text x="-24" y="14">BOOM KLIMMEN ?</text></g>
 <g transform="translate(887,400) rotate(-15)" font-size="6" fill="#c8862e"><text x="-4" y="-11">DAS</text><text x="-12" y="-3">OPDAT JE</text><text x="-18" y="5">NIET VAN DE</text><text x="-14" y="13">SCHOMMEL</text><text x="-4" y="21">VALT!</text></g>
 <g transform="translate(565,260)" font-size="4.5" fill="#c8862e"><text x="-14" y="-12">EVEN KIJKEN</text><text x="-14" y="-5">WAT DE KIDS</text><text x="-14" y="2">BUITEN</text><text x="-14" y="9">DOEN</text></g>
 <g transform="translate(697,540) rotate(-20)" font-size="7.5" fill="#b5a825"><text x="-16" y="-12">WIJ GAAN</text><text x="-16" y="-2">LEKKER</text><text x="-20" y="8">ZWEMMEN</text><text x="-18" y="18">IN DE MAAS</text></g>
 <g transform="translate(786,315) rotate(-20)" font-size="4.5" fill="#b5a825"><text x="-17" y="-6">DE STUDIEN MET</text><text x="-17" y="1">CANDY IK MAG</text><text x="-17" y="8">LEGO SPELEN</text></g>
 <text transform="translate(222,215) rotate(-25)" font-size="5" fill="#c6bb33">YEAH!</text>
 <g transform="translate(800,450) rotate(-28)" font-size="5"><text>VOLDOENDE BANKEN</text><text y="7">OM SAMEN BUITEN</text><text y="14">TE ETEN</text></g>
 <text transform="translate(305,590) rotate(-28)" font-size="18" fill="none" stroke="#888" stroke-width="0.8">EM</text>
</g>

<!-- legend -->
<g fill="none" stroke="#8c8c8c" stroke-width="1">
 <use href="#pm" x="118" y="540" width="6" height="17"/><use href="#pm" x="125" y="545" width="4" height="12"/><use href="#pw" x="130" y="539" width="7" height="18"/>
 <use href="#pm" x="149" y="546" width="5" height="11"/><use href="#pr" x="155" y="537" width="7" height="20"/><use href="#pm" x="162" y="538" width="7" height="19"/>
 <use href="#pm" x="177" y="541" width="6" height="16"/><use href="#pr" x="183" y="537" width="7" height="20"/><use href="#pw" x="190" y="538" width="7" height="19"/><use href="#pr" x="197" y="537" width="6" height="20"/><use href="#pm" x="203" y="546" width="5" height="11"/>
 <use href="#pr" x="212" y="535" width="6" height="22"/><use href="#pm" x="218" y="540" width="6" height="17"/><use href="#pw" x="224" y="543" width="6" height="14"/>
 <use href="#pm" x="238" y="538" width="6" height="19"/><use href="#pm" x="244" y="540" width="6" height="17"/><use href="#pm" x="250" y="544" width="5" height="13" stroke-dasharray="1.5 1"/><use href="#pr" x="255" y="540" width="5" height="17" stroke-dasharray="1.5 1"/>
</g>
<g fill="#9a9a9a" font-size="2.5"><text x="114" y="562">HET STARTENDE GEZIN</text><text x="146" y="562">HET JONGE GEZIN</text><text x="177" y="562">HET PUBERGEZIN</text><text x="210" y="562">HET LEGENEST</text><text x="237" y="562">HET PART TIME</text></g>
<text x="115" y="580" font-size="15" font-weight="bold" fill="#8e8e8e" textLength="144" lengthAdjust="spacing">Barbapartments</text>

</svg>
</body></html>
